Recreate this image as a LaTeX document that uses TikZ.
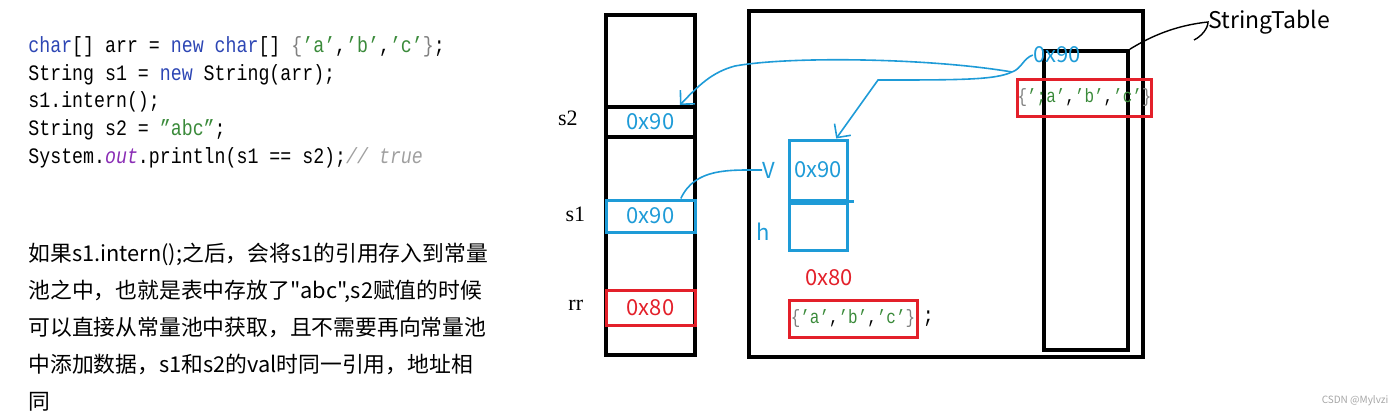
\documentclass[tikz,border=0pt]{standalone}
\usepackage{fontspec}
\setmainfont{Noto Sans CJK SC}[Ligatures=TeXOff]
\newfontfamily\codefont[Ligatures=TeX, FakeStretch=0.83]{Liberation Mono}
\newfontfamily\labelfont{Liberation Serif}
\usetikzlibrary{arrows.meta, positioning}

\definecolor{inkblue}{HTML}{1E9BD7}
\definecolor{inkred}{HTML}{E3202A}
\definecolor{kwblue}{HTML}{2D46B4}
\definecolor{litgreen}{HTML}{3A8A3A}
\definecolor{fldpurple}{HTML}{8A2DB5}
\definecolor{cmtgray}{HTML}{A0A0A0}

\newcommand{\kw}[1]{\textcolor{kwblue}{#1}}
\newcommand{\lit}[1]{\textcolor{litgreen}{#1}}
\newcommand{\fld}[1]{\textcolor{fldpurple}{\itshape #1}}
\newcommand{\cmt}[1]{\textcolor{cmtgray}{\itshape #1}}
\newcommand{\brc}[1]{\textcolor{gray}{#1}}

\begin{document}
\begin{tikzpicture}[
x=0.5pt, y=-0.5pt,
code/.style={anchor=base west, inner sep=0, font=\codefont\fontsize{11}{12}\selectfont},
note/.style={anchor=north west, align=left, inner sep=0, font=\fontsize{10.9}{18.5}\selectfont},
frame/.style={draw, line width=2pt, inner sep=0},
slot/.style={draw, line width=1.5pt, inner sep=0, minimum width=44.5pt, font=\fontsize{11}{13}\selectfont},
objcell/.style={draw=inkblue, line width=1.5pt, inner sep=0, minimum width=29pt, text=inkblue, font=\fontsize{11}{13}\selectfont},
entry/.style={draw=inkred, line width=1.5pt, inner sep=0, minimum height=18.5pt, font=\codefont\fontsize{9.6}{11}\selectfont},
addr/.style={inner sep=0, font=\fontsize{11}{13}\selectfont},
varname/.style={inner sep=0, font=\labelfont\fontsize{11}{13}\selectfont},
pen/.style={inkblue, line width=0.8pt},
barb/.style={-{Straight Barb[length=5pt, width=10pt]}}
]

% code and note
\node[code] (c1) at (28,52) {\kw{char}[] arr = \kw{new} \kw{char}[] \brc{\{}\lit{'a'},\lit{'b'},\lit{'c'}\brc{\}};};
\node[code] (c2) at (28,80) {String s1 = \kw{new} String(arr);};
\node[code] (c3) at (28,107.5) {s1.intern();};
\node[code] (c4) at (28,135) {String s2 = \lit{"abc"};};
\node[code] (c5) at (28,163) {System.\fld{out}.println(s1 == s2);\cmt{// true}};

\node[note] (note) at (28,243) {如果s1.intern();之后，会将s1的引用存入到常量\\池之中，也就是表中存放了"abc",s2赋值的时候\\可以直接从常量池中获取，且不需要再向常量池\\中添加数据，s1和s2的val时同一引用，地址相\\同};

% stack
\node[frame, minimum width=44.5pt, minimum height=170pt] (stack) at (650.5,185) {};
\node[slot, draw=black, line width=2pt, minimum height=15pt, text=inkblue] (s2cell) at (650.5,122) {0x90};
\node[slot, draw=inkblue, minimum height=16pt, text=inkblue] (s1cell) at (650.5,216) {0x90};
\node[slot, draw=inkred, minimum height=17.5pt, text=inkred] (arrcell) at (650.5,307.5) {0x80};

\node[varname, left=13pt of s2cell, yshift=2pt] (s2name) {s2};
\node[varname, left=9.5pt of s1cell, yshift=1pt] (s1name) {s1};
\node[varname, left=10.5pt of arrcell, yshift=1pt] (arrname) {rr};

% heap
\node[frame, minimum width=197pt, minimum height=173pt] (heap) at (946,184) {};
\node[frame, line width=1.8pt, minimum width=42pt, minimum height=149.5pt] (table) at (1086,200.5) {};
\node[entry, minimum width=65.5pt] (tblentry) at (1084.5,97.5) {\brc{\{}\lit{';a'},\lit{'b'},\lit{'c'}\brc{\}}};
\node[addr, text=inkblue] (tbladdr) at (1057,55) {0x90};
\node[addr, anchor=west, font=\fontsize{11.5}{13}\selectfont] (sttext) at (1208,22) {StringTable};

\node[objcell, minimum height=30pt] (valcell) at (818,170) {0x90};
\node[objcell, minimum height=23.5pt, below=0pt of valcell] (hashcell) {};
\node[addr, text=inkblue, left=6pt of valcell] (vname) {V};
\node[addr, text=inkblue, left=8.5pt of hashcell, yshift=-2.5pt] (hname) {h};

\node[addr, text=inkred] (arraddr) at (829,278) {0x80};
\node[entry, minimum width=64pt] (arrobj) at (853,318.5) {\brc{\{}\lit{'a'},\lit{'b'},\lit{'c'}\brc{\}}};
\node[code, anchor=west, right=2pt of arrobj] (semi) {;};

\node[inner sep=0, text=gray!70, font=\fontsize{5}{6}\selectfont] (mark) at (1355,401) {CSDN @Mylvzi};

% connectors
\coordinate (fork) at (1012,72);
\coordinate (bend) at (878,80);
\coordinate (hook) at (1194,40);
\draw[pen] (tbladdr.west) to[out=200, in=20] (fork);
\draw[pen, barb] (fork) .. controls (930,58) and (790,56) .. (735,66)
  .. controls (712,72) and (698,86) .. (s2cell.30);
\draw[pen, barb] (fork) .. controls (995,80) and (960,80) .. (bend) -- (valcell.60);
\draw[pen] (s1cell.30) to[out=65, in=180] (vname.west);
\draw[inkblue, line width=1.5pt] (hashcell.north east) -- ++(5,0);
\draw[line width=0.7pt] (table.north east) .. controls (1145,40) and (1170,26) .. (sttext.west)
  .. controls (1208,28) and (1202,36) .. (hook);

\useasboundingbox (0,0) rectangle (1400,413);
\end{tikzpicture}
\end{document}
